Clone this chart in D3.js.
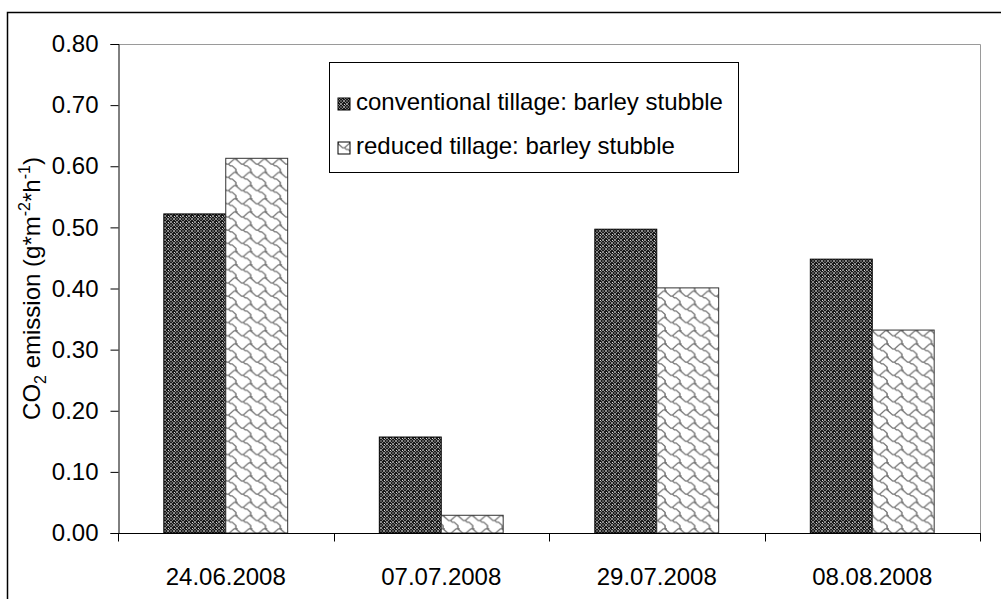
<!DOCTYPE html>
<html>
<head>
<meta charset="utf-8">
<script src="https://cdn.jsdelivr.net/npm/d3@7"></script>
<style>
  body { margin: 0; background: #fff; }
  text { font-family: "Liberation Sans", Arial, sans-serif; fill: #000; }
</style>
</head>
<body>
<script>
var categories = ['24.06.2008', '07.07.2008', '29.07.2008', '08.08.2008'];
var seriesNames = ['conventional tillage: barley stubble', 'reduced tillage: barley stubble'];
var conventional = [0.522, 0.157, 0.497, 0.448];
var reduced = [0.613, 0.029, 0.401, 0.332];
var yTicks = [0, 0.1, 0.2, 0.3, 0.4, 0.5, 0.6, 0.7, 0.8];

var width = 1001;
var height = 599;
// note: "top" is a read-only global in browsers, so use other names
var plotLeft = 118, plotRight = 980, plotTop = 44, plotBottom = 533;

var svg = d3.select('body').append('svg')
  .attr('width', width)
  .attr('height', height);

var defs = svg.append('defs');

// dark trellis-like fill
var darkPat = defs.append('pattern')
  .attr('id', 'pat-dark')
  .attr('patternUnits', 'userSpaceOnUse')
  .attr('width', 6).attr('height', 6);
darkPat.append('rect').attr('width', 6).attr('height', 6).attr('fill', '#1a1a1a');
darkPat.append('path')
  .attr('d', 'M0,3 L3,0 L6,3 L3,6 Z')
  .attr('fill', 'none').attr('stroke', '#8a8a8a').attr('stroke-width', 1);
darkPat.append('rect').attr('x', 2.5).attr('y', 2.5).attr('width', 1).attr('height', 1).attr('fill', '#fff');
darkPat.append('rect').attr('x', 0).attr('y', 0).attr('width', 1).attr('height', 1).attr('fill', '#ddd');

// light shingle fill, drawn on an 8x8 grid and scaled up
var lightPat = defs.append('pattern')
  .attr('id', 'pat-light')
  .attr('patternUnits', 'userSpaceOnUse')
  .attr('width', 8).attr('height', 8)
  .attr('patternTransform', 'scale(1.85,1.65)');
lightPat.append('rect').attr('x', -1).attr('y', -1).attr('width', 10).attr('height', 10).attr('fill', '#fff');
var shingle = 'M-0.5,0.5 L1.5,2.5 L2.5,3.5 L3.5,3.5 L5.5,1.5 L6.5,0.5 L8.5,0.5 ' +
  'M3.5,3.5 L4.5,4.5 L5.5,4.5 L6.5,5.5 L7.5,6.5 L7.5,8.5';
[[0, 0], [-8, 0], [8, 0], [0, -8], [0, 8], [-8, -8], [-8, 8]].forEach(function(o) {
  lightPat.append('path')
    .attr('d', shingle)
    .attr('transform', 'translate(' + o[0] + ',' + o[1] + ')')
    .attr('fill', 'none').attr('stroke', '#707070').attr('stroke-width', 0.8)
    .attr('stroke-linejoin', 'round');
});

var x0 = d3.scaleBand().domain(categories).range([plotLeft, plotRight]);
var x1 = d3.scaleBand().domain([0, 1]).range([0, x0.bandwidth()]).paddingOuter(0.74);
var y = d3.scaleLinear().domain([0, 0.8]).range([plotBottom, plotTop]);

// outer chart frame
svg.append('path')
  .attr('d', 'M7.5,599 L7.5,12.5 L1001,12.5')
  .attr('fill', 'none').attr('stroke', '#000').attr('stroke-width', 1.5);

// plot area border (top/right)
svg.append('path')
  .attr('d', 'M' + plotLeft + ',' + (plotTop + 0.5) + ' L' + (plotRight + 0.5) + ',' + (plotTop + 0.5) + ' L' + (plotRight + 0.5) + ',' + plotBottom)
  .attr('fill', 'none').attr('stroke', '#9a9a9a').attr('stroke-width', 1);

var series = [
  { values: conventional, fill: 'url(#pat-dark)', stroke: '#000' },
  { values: reduced, fill: 'url(#pat-light)', stroke: '#333' }
];

var groups = svg.append('g').selectAll('g')
  .data(series)
  .enter().append('g');

groups.selectAll('rect')
  .data(function(s, i) {
    return s.values.map(function(v, j) { return { v: v, cat: categories[j], si: i, s: s }; });
  })
  .enter().append('rect')
    .attr('x', function(d) { return x0(d.cat) + x1(d.si); })
    .attr('y', function(d) { return y(d.v); })
    .attr('width', x1.bandwidth())
    .attr('height', function(d) { return y(0) - y(d.v); })
    .attr('fill', function(d) { return d.s.fill; })
    .attr('stroke', function(d) { return d.s.stroke; })
    .attr('stroke-width', 1);

// y axis
var yAxis = svg.append('g')
  .attr('transform', 'translate(' + (plotLeft + 0.5) + ',0)')
  .call(d3.axisLeft(y).tickValues(yTicks).tickFormat(d3.format('.2f')).tickSize(8).tickPadding(12));
yAxis.select('.domain').attr('stroke', '#000');
yAxis.selectAll('.tick line').attr('stroke', '#000');
yAxis.selectAll('text')
  .style('font-size', '24px')
  .style('font-family', '"Liberation Sans", Arial, sans-serif');

// x axis with ticks between categories
var xAxis = svg.append('g')
  .attr('transform', 'translate(0,' + (plotBottom + 0.5) + ')');
xAxis.append('line')
  .attr('x1', plotLeft).attr('x2', plotRight + 1)
  .attr('stroke', '#000');
var bounds = categories.map(function(c) { return x0(c); }).concat([plotRight]);
xAxis.selectAll('.sep')
  .data(bounds)
  .enter().append('line')
    .attr('class', 'sep')
    .attr('x1', function(d) { return Math.round(d) + 0.5; })
    .attr('x2', function(d) { return Math.round(d) + 0.5; })
    .attr('y1', 0).attr('y2', 8)
    .attr('stroke', '#000');
xAxis.selectAll('.lbl')
  .data(categories)
  .enter().append('text')
    .attr('class', 'lbl')
    .attr('x', function(d) { return x0(d) + x0.bandwidth() / 2; })
    .attr('y', 51)
    .attr('text-anchor', 'middle')
    .style('font-size', '24px')
    .text(function(d) { return d; });

// y axis title
var title = svg.append('text')
  .attr('transform', 'translate(40,' + ((plotTop + plotBottom) / 2) + ') rotate(-90)')
  .attr('text-anchor', 'middle')
  .style('font-size', '24px');
title.append('tspan').text('CO');
title.append('tspan').attr('dy', 6).style('font-size', '16px').text('2');
title.append('tspan').attr('dy', -6).text(' emission (g*m');
title.append('tspan').attr('dy', -10).style('font-size', '16px').text('-2');
title.append('tspan').attr('dy', 10).text('*h');
title.append('tspan').attr('dy', -10).style('font-size', '16px').text('-1');
title.append('tspan').attr('dy', 10).text(')');

// legend
var legend = svg.append('g');
legend.append('rect')
  .attr('x', 329.5).attr('y', 62.5)
  .attr('width', 409).attr('height', 110)
  .attr('fill', '#fff').attr('stroke', '#000');
var items = legend.selectAll('.item')
  .data(seriesNames)
  .enter().append('g')
    .attr('class', 'item')
    .attr('transform', function(d, i) { return 'translate(338,' + (98 + i * 44) + ')'; });
items.append('rect')
  .attr('width', 12).attr('height', 12)
  .attr('fill', function(d, i) { return series[i].fill; })
  .attr('stroke', '#000');
items.append('text')
  .attr('x', 18).attr('y', 12)
  .style('font-size', '24px')
  .text(function(d) { return d; });
</script>
</body>
</html>
